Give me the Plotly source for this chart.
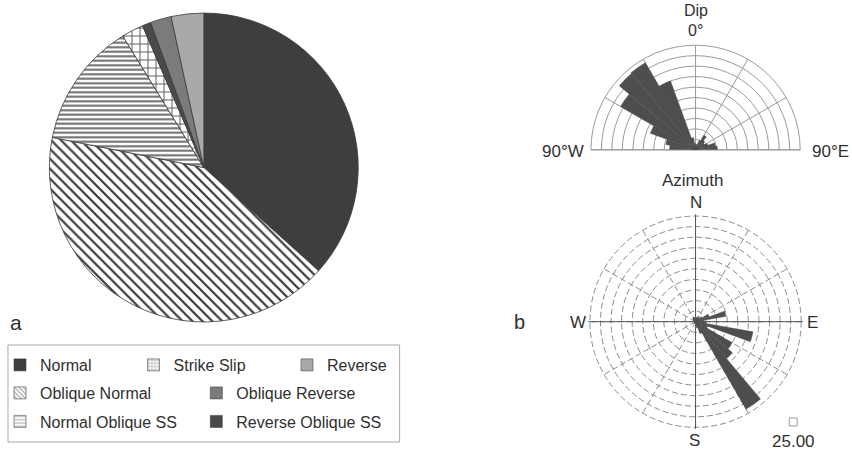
import plotly.graph_objects as go

W, H = 852, 454

# ---- fault-type proportions (%), clockwise from 12 o'clock ----
fault_types = ["Normal", "Oblique Normal", "Normal Oblique SS", "Strike Slip",
               "Reverse Oblique SS", "Oblique Reverse", "Reverse"]
fault_share = [36.7, 41.5, 13.1, 2.3, 0.9, 2.2, 3.4]

# ---- dip rose: 10-degree bins measured from vertical ----
dip_angle = [5, 15, 25, 35, 45, 55, 65, 75, 85]
dip_west = [1.5, 3.0, 17.5, 24.0, 23.8, 20.7, 11.5, 7.2, 6.2]
dip_east = [1.0, 1.4, 2.4, 4.0, 2.9, 2.4, 3.1, 4.8, 5.2]

# ---- azimuth rose: 10-degree bins, bearing clockwise from north ----
az_bin = [5, 15, 25, 35, 45, 55, 65, 75, 85, 95, 105, 115, 125, 135, 145, 155, 165, 175,
          185, 195, 205, 215, 225, 235, 245, 255, 265, 275, 285, 295, 305, 315, 325, 335, 345, 355]
az_freq = [0.8, 1.0, 1.2, 1.5, 1.0, 1.8, 3.4, 7.3, 2.0, 2.5, 13.8, 3.0, 10.0, 11.4, 23.9, 3.0, 1.5, 1.0,
           0.5, 0.3, 0.3, 0.3, 0.3, 0.3, 0.3, 0.3, 0.5, 0.5, 0.5, 0.5, 0.5, 0.8, 1.0, 1.2, 1.0, 0.8]

rose_max = 25.0
rose_step = 2.5

# legend order (row by row)
legend_rows = [["Normal", "Strike Slip", "Reverse"],
               ["Oblique Normal", "Oblique Reverse"],
               ["Normal Oblique SS", "Reverse Oblique SS"]]

FONT = "Arial, Liberation Sans, sans-serif"
TXT = "#303030"
BAR = "#4e4e4e"

style = {
    "Normal":             dict(color="#3e3e3e", shape="",   fg="#3e3e3e", bg="#3e3e3e", size=8, sol=0.3),
    "Oblique Normal":     dict(color="#ffffff", shape="\\", fg="#3a3a3a", bg="#ffffff", size=7, sol=0.32),
    "Normal Oblique SS":  dict(color="#ffffff", shape="-",  fg="#6a6a6a", bg="#ffffff", size=4.5, sol=0.45),
    "Strike Slip":        dict(color="#ffffff", shape="+",  fg="#555555", bg="#ffffff", size=8, sol=0.22),
    "Reverse Oblique SS": dict(color="#4a4a4a", shape="",   fg="#4a4a4a", bg="#4a4a4a", size=8, sol=0.3),
    "Oblique Reverse":    dict(color="#7b7b7b", shape="",   fg="#7b7b7b", bg="#7b7b7b", size=8, sol=0.3),
    "Reverse":            dict(color="#a9a9a9", shape="",   fg="#a9a9a9", bg="#a9a9a9", size=8, sol=0.3),
}


def px_x(x):
    return x / W


def px_y(y):
    return 1 - y / H


fig = go.Figure()

# ---- pie (panel a) ----
fig.add_trace(go.Pie(
    labels=fault_types, values=fault_share, sort=False, direction="clockwise", rotation=0,
    textinfo="none", showlegend=False,
    marker=dict(
        colors=[style[t]["color"] for t in fault_types],
        line=dict(color="#3a3a3a", width=0.8),
        pattern=dict(
            shape=[style[t]["shape"] for t in fault_types],
            fgcolor=[style[t]["fg"] for t in fault_types],
            bgcolor=[style[t]["bg"] for t in fault_types],
            size=[style[t]["size"] for t in fault_types],
            solidity=[style[t]["sol"] for t in fault_types],
        ),
    ),
    domain=dict(x=[px_x(46.5), px_x(356.5)], y=[px_y(322.5), px_y(12.5)]),
))

# ---- legend entries (one legend per entry so each can be placed freely) ----
legend_pos = {
    "Normal": (-3, 365), "Strike Slip": (131, 365), "Reverse": (285, 365),
    "Oblique Normal": (-3, 393), "Oblique Reverse": (194, 393),
    "Normal Oblique SS": (-3, 421.5), "Reverse Oblique SS": (194, 421.5),
}
legend_layout = {}
k = 0
for row in legend_rows:
    for name in row:
        k += 1
        lname = "legend" if k == 1 else f"legend{k}"
        s = style[name]
        fig.add_trace(go.Bar(
            x=[None], y=[None], name=name, legend=lname, showlegend=True,
            marker=dict(color=s["color"], line=dict(color="#444444", width=0.6),
                        pattern=dict(shape=s["shape"], fgcolor=s["fg"], bgcolor=s["bg"],
                                     size=4, solidity=0.35)),
        ))
        lx, ly = legend_pos[name]
        legend_layout[lname] = dict(
            x=px_x(lx), y=px_y(ly), xanchor="left", yanchor="middle",
            orientation="h", bgcolor="rgba(0,0,0,0)", borderwidth=0,
            font=dict(family=FONT, size=16, color=TXT), itemwidth=30,
        )

# ---- dip rose (upper half-disc) ----
fig.add_trace(go.Barpolar(
    r=dip_west + dip_east,
    theta=[360 - a for a in dip_angle] + dip_angle,
    width=10, marker=dict(color=BAR, line=dict(color=BAR, width=0.5)),
    subplot="polar", showlegend=False,
))

# ---- azimuth rose ----
fig.add_trace(go.Barpolar(
    r=az_freq, theta=az_bin, width=10,
    marker=dict(color=BAR, line=dict(color=BAR, width=0.5)),
    subplot="polar2", showlegend=False,
))
fig.add_trace(go.Scatterpolar(r=[], theta=[], subplot="polar3", showlegend=False))

radial_common = dict(tick0=0, dtick=rose_step, showticklabels=False, ticks="",
                     showline=False, layer="below traces")
angular_common = dict(rotation=90, direction="clockwise", showticklabels=False, ticks="",
                      layer="below traces")

# azimuth range runs a little past the last ring so that ring is drawn as a grid circle
az_range = [0, rose_max * 1.016]

dip_dom = dict(x=[px_x(590), px_x(800)], y=[px_y(150), px_y(45)])
az_dom = dict(x=[px_x(587.3), px_x(802.7)], y=[px_y(429.4), px_y(214.0)])

fig.update_layout(
    width=W, height=H, margin=dict(l=0, r=0, t=0, b=0),
    paper_bgcolor="white", plot_bgcolor="white",
    xaxis=dict(visible=False), yaxis=dict(visible=False),
    polar=dict(
        domain=dip_dom, sector=[0, 180], bgcolor="white", bargap=0,
        radialaxis=dict(**radial_common, range=[0, rose_max], gridcolor="#9a9a9a", gridwidth=1),
        angularaxis=dict(**angular_common, dtick=30, gridcolor="#9a9a9a", showline=True,
                         linecolor="#9a9a9a", linewidth=1),
    ),
    polar2=dict(
        domain=az_dom, bgcolor="white", bargap=0,
        radialaxis=dict(**radial_common, range=az_range, gridcolor="#8c8c8c", griddash="6px,3px"),
        angularaxis=dict(**angular_common, dtick=30, gridcolor="#8c8c8c", griddash="6px,3px",
                         showline=False),
    ),
    polar3=dict(
        domain=az_dom, bgcolor="rgba(0,0,0,0)",
        radialaxis=dict(**radial_common, range=az_range, showgrid=False),
        angularaxis=dict(**angular_common, dtick=90, gridcolor="#555555", showline=False),
    ),
    **legend_layout,
)

# legend frame
fig.add_shape(type="rect", xref="paper", yref="paper",
              x0=px_x(5), x1=px_x(398), y0=px_y(442), y1=px_y(345),
              line=dict(color="#a8a8a8", width=1), fillcolor="rgba(0,0,0,0)", layer="below")

# scale marker of the azimuth rose
fig.add_shape(type="rect", xref="paper", yref="paper",
              x0=px_x(789), x1=px_x(797), y0=px_y(426), y1=px_y(418),
              line=dict(color="#9a9a9a", width=1), fillcolor="white")


def label(text, x, y, size=17):
    fig.add_annotation(text=text, x=px_x(x), y=px_y(y), xref="paper", yref="paper",
                       showarrow=False, xanchor="center", yanchor="middle",
                       font=dict(family=FONT, size=size, color=TXT))


label("a", 13, 322, 21)
label("b", 518, 322, 20)
label("Dip", 695, 11, 16)
label("0°", 695, 31, 16)
label("90°W", 562, 152)
label("90°E", 830, 152)
label("Azimuth", 692, 180)
label("N", 695, 202)
label("W", 577, 322)
label("E", 812, 322)
label("S", 694, 440)
label("25.00", 793, 441)

fig.write_html("out.html")
